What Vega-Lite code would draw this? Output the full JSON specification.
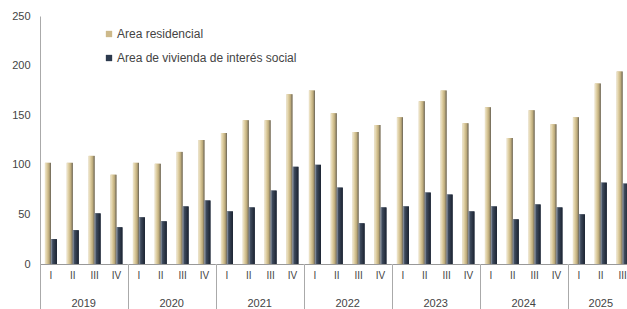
{
  "$schema": "https://vega.github.io/schema/vega-lite/v6.json",
  "padding": {"left": 11, "top": 10, "right": 0, "bottom": 0},
  "background": "white",
  "data": {"values": [
    {"year": "2019", "q": "I", "series": "Area residencial", "value": 102},
    {"year": "2019", "q": "II", "series": "Area residencial", "value": 102},
    {"year": "2019", "q": "III", "series": "Area residencial", "value": 109},
    {"year": "2019", "q": "IV", "series": "Area residencial", "value": 90},
    {"year": "2020", "q": "I", "series": "Area residencial", "value": 102},
    {"year": "2020", "q": "II", "series": "Area residencial", "value": 101},
    {"year": "2020", "q": "III", "series": "Area residencial", "value": 113},
    {"year": "2020", "q": "IV", "series": "Area residencial", "value": 125},
    {"year": "2021", "q": "I", "series": "Area residencial", "value": 132},
    {"year": "2021", "q": "II", "series": "Area residencial", "value": 145},
    {"year": "2021", "q": "III", "series": "Area residencial", "value": 145},
    {"year": "2021", "q": "IV", "series": "Area residencial", "value": 171},
    {"year": "2022", "q": "I", "series": "Area residencial", "value": 175},
    {"year": "2022", "q": "II", "series": "Area residencial", "value": 152},
    {"year": "2022", "q": "III", "series": "Area residencial", "value": 133},
    {"year": "2022", "q": "IV", "series": "Area residencial", "value": 140},
    {"year": "2023", "q": "I", "series": "Area residencial", "value": 148},
    {"year": "2023", "q": "II", "series": "Area residencial", "value": 164},
    {"year": "2023", "q": "III", "series": "Area residencial", "value": 175},
    {"year": "2023", "q": "IV", "series": "Area residencial", "value": 142},
    {"year": "2024", "q": "I", "series": "Area residencial", "value": 158},
    {"year": "2024", "q": "II", "series": "Area residencial", "value": 127},
    {"year": "2024", "q": "III", "series": "Area residencial", "value": 155},
    {"year": "2024", "q": "IV", "series": "Area residencial", "value": 141},
    {"year": "2025", "q": "I", "series": "Area residencial", "value": 148},
    {"year": "2025", "q": "II", "series": "Area residencial", "value": 182},
    {"year": "2025", "q": "III", "series": "Area residencial", "value": 194},
    {"year": "2019", "q": "I", "series": "Area de vivienda de interés social", "value": 25},
    {"year": "2019", "q": "II", "series": "Area de vivienda de interés social", "value": 34},
    {"year": "2019", "q": "III", "series": "Area de vivienda de interés social", "value": 51},
    {"year": "2019", "q": "IV", "series": "Area de vivienda de interés social", "value": 37},
    {"year": "2020", "q": "I", "series": "Area de vivienda de interés social", "value": 47},
    {"year": "2020", "q": "II", "series": "Area de vivienda de interés social", "value": 43},
    {"year": "2020", "q": "III", "series": "Area de vivienda de interés social", "value": 58},
    {"year": "2020", "q": "IV", "series": "Area de vivienda de interés social", "value": 64},
    {"year": "2021", "q": "I", "series": "Area de vivienda de interés social", "value": 53},
    {"year": "2021", "q": "II", "series": "Area de vivienda de interés social", "value": 57},
    {"year": "2021", "q": "III", "series": "Area de vivienda de interés social", "value": 74},
    {"year": "2021", "q": "IV", "series": "Area de vivienda de interés social", "value": 98},
    {"year": "2022", "q": "I", "series": "Area de vivienda de interés social", "value": 100},
    {"year": "2022", "q": "II", "series": "Area de vivienda de interés social", "value": 77},
    {"year": "2022", "q": "III", "series": "Area de vivienda de interés social", "value": 41},
    {"year": "2022", "q": "IV", "series": "Area de vivienda de interés social", "value": 57},
    {"year": "2023", "q": "I", "series": "Area de vivienda de interés social", "value": 58},
    {"year": "2023", "q": "II", "series": "Area de vivienda de interés social", "value": 72},
    {"year": "2023", "q": "III", "series": "Area de vivienda de interés social", "value": 70},
    {"year": "2023", "q": "IV", "series": "Area de vivienda de interés social", "value": 53},
    {"year": "2024", "q": "I", "series": "Area de vivienda de interés social", "value": 58},
    {"year": "2024", "q": "II", "series": "Area de vivienda de interés social", "value": 45},
    {"year": "2024", "q": "III", "series": "Area de vivienda de interés social", "value": 60},
    {"year": "2024", "q": "IV", "series": "Area de vivienda de interés social", "value": 57},
    {"year": "2025", "q": "I", "series": "Area de vivienda de interés social", "value": 50},
    {"year": "2025", "q": "II", "series": "Area de vivienda de interés social", "value": 82},
    {"year": "2025", "q": "III", "series": "Area de vivienda de interés social", "value": 81}
  ]},
  "facet": {
    "column": {
      "field": "year", "type": "ordinal", "title": null,
      "header": {"labelOrient": "bottom", "labelFont": "Liberation Sans", "labelFontSize": 11, "labelColor": "#444444", "labelPadding": 34}
    }
  },
  "spacing": 0,
  "bounds": "flush",
  "resolve": {"scale": {"x": "independent"}},
  "spec": {
    "width": {"step": 6},
    "height": 248,
    "encoding": {
      "x": {
        "field": "q", "type": "ordinal", "sort": ["I", "II", "III", "IV"], "title": null,
        "scale": {"paddingInner": 0, "paddingOuter": 0},
        "axis": {
          "labelAngle": 0, "labelFont": "Liberation Sans", "labelFontSize": 10, "labelColor": "#444444",
          "domainColor": "#999999", "ticks": true, "bandPosition": 0, "tickSize": 45, "tickColor": "#aaaaaa",
          "tickOpacity": {"condition": {"test": "datum.value === 'I'", "value": 1}, "value": 0},
          "labelPadding": -39
        }
      },
      "xOffset": {"field": "series", "type": "nominal", "sort": ["Area residencial", "Area de vivienda de interés social"], "scale": {"paddingInner": 0, "paddingOuter": 0.82}},
      "y": {
        "field": "value", "type": "quantitative", "title": null,
        "scale": {"domain": [0, 250]},
        "axis": {"values": [0, 50, 100, 150, 200, 250], "grid": false, "ticks": false, "labelPadding": 10, "domainColor": "#aaaaaa", "labelFont": "Liberation Sans", "labelFontSize": 11, "labelColor": "#444444"}
      }
    },
    "layer": [
      {
        "mark": {"type": "bar"},
        "encoding": {
          "color": {
            "field": "series", "type": "nominal", "sort": ["Area residencial", "Area de vivienda de interés social"],
            "scale": {"range": ["#cdb98a", "#2c3a4e"]},
            "legend": {"title": null, "orient": "none", "legendX": 63, "legendY": 12, "symbolType": "square", "symbolSize": 40, "labelFont": "Liberation Sans", "labelFontSize": 12, "labelColor": "#444444", "rowPadding": 12, "labelOffset": 2, "labelLimit": 0, "symbolStrokeWidth": 0}
          }
        }
      },
      {
        "transform": [{"filter": "datum.series === 'Area residencial'"}],
        "mark": {"type": "bar", "fill": {"gradient": "linear", "x1": 0, "x2": 1, "y1": 0, "y2": 0, "stops": [{"offset": 0, "color": "#efe7cf"}, {"offset": 0.35, "color": "#dccb9c"}, {"offset": 0.72, "color": "#b8a677"}, {"offset": 1, "color": "#5e5a52"}]}}
      },
      {
        "transform": [{"filter": "datum.series === 'Area de vivienda de interés social'"}],
        "mark": {"type": "bar", "fill": {"gradient": "linear", "x1": 0, "x2": 1, "y1": 0, "y2": 0, "stops": [{"offset": 0, "color": "#9aa3b0"}, {"offset": 0.3, "color": "#3e4a5c"}, {"offset": 1, "color": "#1a2230"}]}}
      }
    ]
  },
  "config": {"view": {"stroke": null}, "axis": {"grid": false}}
}
